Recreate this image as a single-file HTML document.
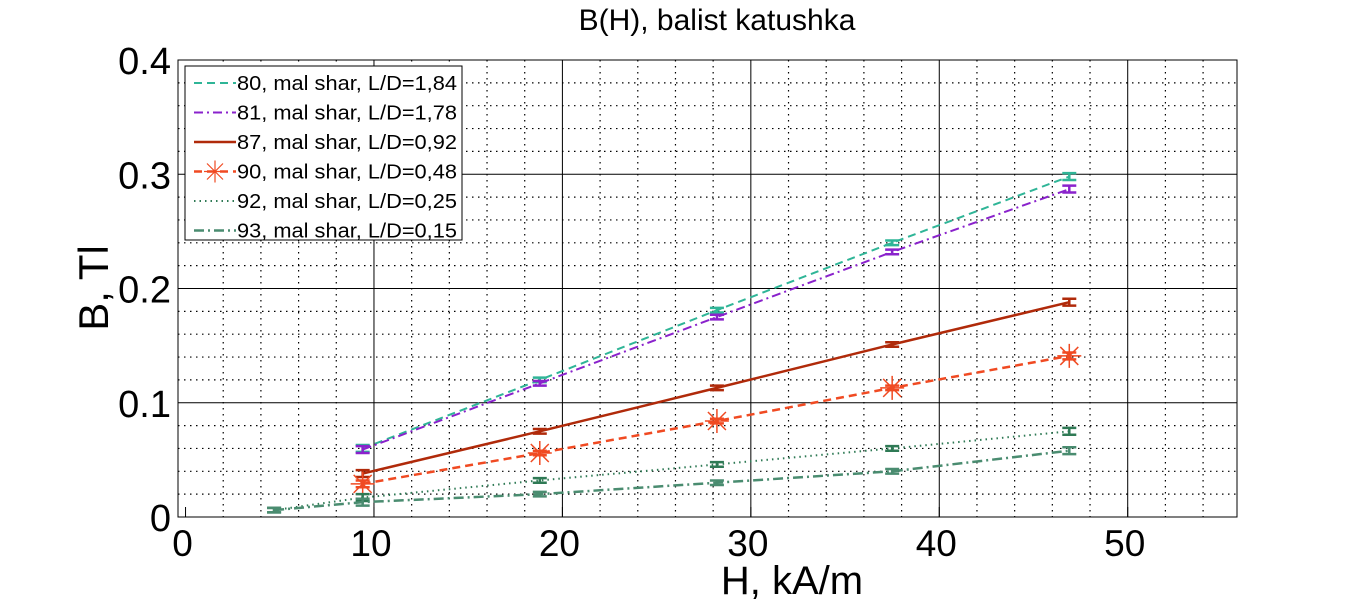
<!DOCTYPE html>
<html><head><meta charset="utf-8"><style>
body{margin:0;background:#fff;}
svg{display:block;font-family:"Liberation Sans",sans-serif;}
</style></head><body>
<svg id="chart" width="1367" height="605" viewBox="0 0 1367 605">
<text x="717" y="30" font-size="30" text-anchor="middle">B(H), balist katushka</text>
<g id="grid"></g><g id="series"></g><g id="axes"></g><g id="legend"></g>
<text x="792" y="594" font-size="40" text-anchor="middle">H, kA/m</text>
<text transform="translate(108,288) rotate(-90)" font-size="42" text-anchor="middle">B, Tl</text>
</svg>
<script>
const xTicks=[0,10,20,30,40,50];
const yTicks=[0,0.1,0.2,0.3,0.4];
const yTickLabels=["0","0.1","0.2","0.3","0.4"];
const xVals=[4.7,9.4,18.8,28.2,37.5,46.9];
const s80=[null,0.060,0.120,0.181,0.240,0.298];
const s81=[null,0.059,0.117,0.175,0.232,0.287];
const s87=[null,0.038,0.075,0.113,0.151,0.188];
const s90=[null,0.029,0.056,0.084,0.113,0.141];
const s92=[0.006,0.017,0.032,0.046,0.060,0.075];
const s93=[0.006,0.013,0.020,0.030,0.040,0.058];
const err=[0.002,0.003,0.002,0.002,0.002,0.003];
const labels=["80, mal shar, L/D=1,84","81, mal shar, L/D=1,78","87, mal shar, L/D=0,92","90, mal shar, L/D=0,48","92, mal shar, L/D=0,25","93, mal shar, L/D=0,15"];

const L=178,R=1237,T=60,B=517,xmin=-0.4,xmax=55.8,ymin=0,ymax=0.4;
const X=v=>L+(v-xmin)/(xmax-xmin)*(R-L);
const Y=v=>B-(v-ymin)/(ymax-ymin)*(B-T);
const NS="http://www.w3.org/2000/svg";
function mk(tag,attrs,parent){const e=document.createElementNS(NS,tag);for(const k in attrs)e.setAttribute(k,attrs[k]);parent.appendChild(e);return e;}
const grid=document.getElementById('grid'),axes=document.getElementById('axes'),ser=document.getElementById('series'),leg=document.getElementById('legend');
for(let v=2;v<xmax;v+=2){if(v%10===0)continue;const l=mk('line',{x1:X(v),x2:X(v),y1:T,y2:B,stroke:'#000','stroke-width':1.2,'stroke-dasharray':'1.5 4.5'},grid);

}
for(let i=1;i<20;i++){const v=i*0.02;if(i%5===0)continue;const l=mk('line',{x1:L,x2:R,y1:Y(v),y2:Y(v),stroke:'#000','stroke-width':1.2,'stroke-dasharray':'1.5 4.5'},grid);

}
xTicks.forEach(v=>{if(v>0){const l=mk('line',{x1:X(v),x2:X(v),y1:T,y2:B,stroke:'#000','stroke-width':1},grid);

}
const t=mk('text',{x:X(v)-3,y:556,'font-size':37,'text-anchor':'middle'},axes);t.textContent=v;


mk('line',{x1:X(v),x2:X(v),y1:B,y2:B-10,stroke:'#000'},axes);});
yTicks.forEach((v,i)=>{if(v>0&&v<0.4){const l=mk('line',{x1:L,x2:R,y1:Y(v),y2:Y(v),stroke:'#000','stroke-width':1},grid);

}
const t=mk('text',{x:171,y:Y(v)+14,'font-size':38,'text-anchor':'end'},axes);t.textContent=yTickLabels[i];

});
const box=mk('rect',{x:L,y:T,width:R-L,height:B-T,fill:'none',stroke:'#000','stroke-width':1},axes);



const defs=[
 {d:s80,c:'#2fb597',dash:'8 5',w:2},
 {d:s81,c:'#8a22cc',dash:'9 4 2 4',w:2},
 {d:s87,c:'#b02a0a',dash:'',w:2.5},
 {d:s90,c:'#f04a22',dash:'8 5',w:2.5,star:true},
 {d:s92,c:'#2f7a55',dash:'1.5 4',w:2},
 {d:s93,c:'#4a8c70',dash:'10 4 2 4',w:2.5}];
defs.forEach((s,si)=>{
 const g=mk('g',{},ser);
 
 
 const pts=[];s.d.forEach((v,i)=>{if(v!==null)pts.push(X(xVals[i])+','+Y(v));});
 mk('polyline',{points:pts.join(' '),fill:'none',stroke:s.c,'stroke-width':s.w,'stroke-dasharray':s.dash},g);
 s.d.forEach((v,i)=>{if(v===null)return;const x=X(xVals[i]),e=err[i];
  mk('path',{d:`M${x-7},${Y(v+e)}H${x+7}M${x},${Y(v+e)}V${Y(v-e)}M${x-7},${Y(v-e)}H${x+7}`,stroke:s.c,'stroke-width':2.5,fill:'none'},g);
  if(s.star){const y=Y(v),r=12;mk('path',{d:`M${x-r},${y}H${x+r}M${x},${y-r}V${y+r}M${x-9},${y-9}L${x+9},${y+9}M${x-9},${y+9}L${x+9},${y-9}`,stroke:s.c,'stroke-width':1.5},g);}
 });
 const ly=83+si*29.5;
 mk('line',{x1:194,x2:236,y1:ly,y2:ly,stroke:s.c,'stroke-width':s.w,'stroke-dasharray':s.dash},leg);
 if(s.star){mk('path',{d:`M204,${ly}H226M215,${ly-11}V${ly+11}M207,${ly-8}L223,${ly+8}M207,${ly+8}L223,${ly-8}`,stroke:s.c,'stroke-width':1.2},leg);}
 const t=mk('text',{x:237,y:ly+7,'font-size':20.5,textLength:220,lengthAdjust:'spacingAndGlyphs'},leg);t.textContent=labels[si];
 
 
});
const lb=mk('rect',{x:185,y:66,width:277,height:174,fill:'#fff',stroke:'#000','stroke-width':1},leg);
leg.insertBefore(lb,leg.firstChild);


</script>
</body></html>
